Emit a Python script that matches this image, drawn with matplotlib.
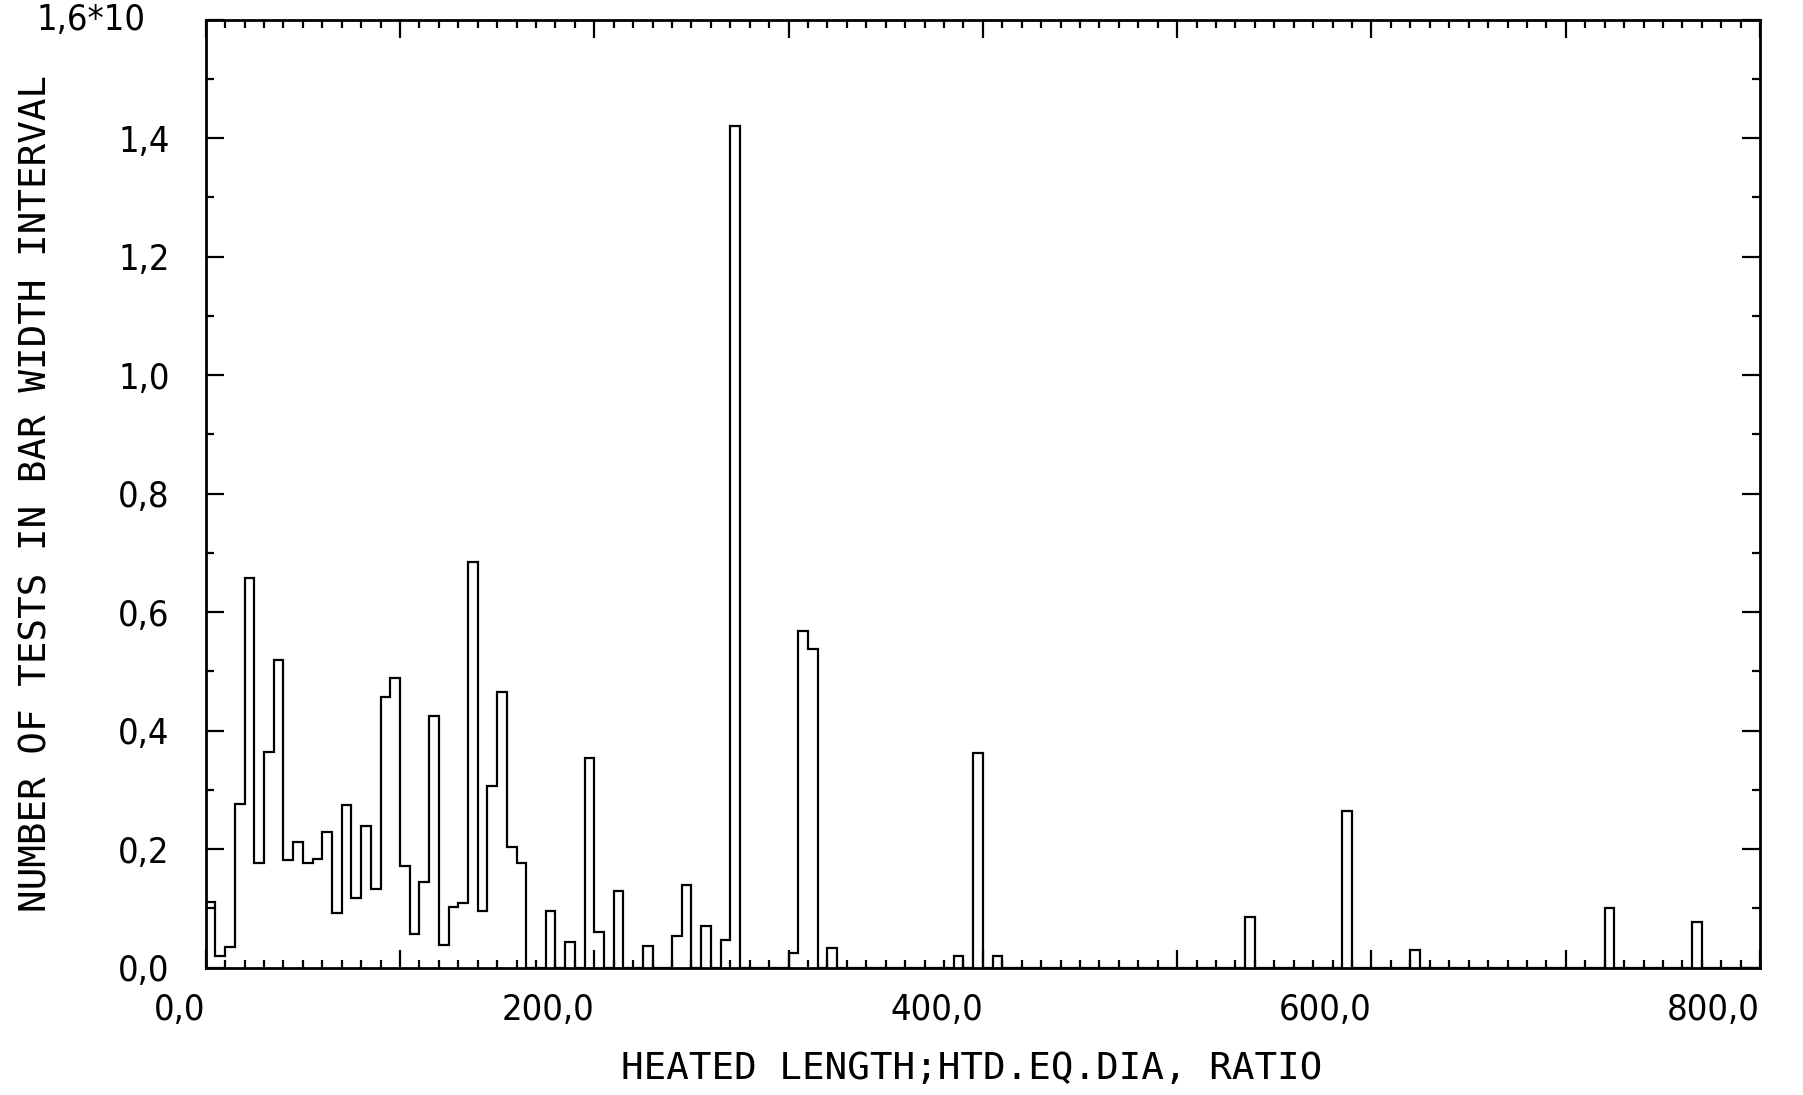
import numpy as np
import matplotlib
matplotlib.use("Agg")
import matplotlib.pyplot as plt
from matplotlib.ticker import MultipleLocator, FixedLocator

# histogram: bin width 5, heated length / equiv. diameter 0 .. 800 (values x10)
BIN_WIDTH = 5.0
heights = [
    0.11, 0.02, 0.035, 0.277, 0.657, 0.176, 0.364, 0.52, 0.182, 0.212,   # 0-50
    0.176, 0.184, 0.229, 0.092, 0.275, 0.118, 0.239, 0.132, 0.457, 0.489,  # 50-100
    0.171, 0.056, 0.145, 0.425, 0.039, 0.102, 0.109, 0.685, 0.095, 0.307,  # 100-150
    0.465, 0.204, 0.176, 0.0, 0.0, 0.095, 0.0, 0.043, 0.0, 0.354,       # 150-200
    0.06, 0.0, 0.13, 0.0, 0.0, 0.036, 0.0, 0.0, 0.053, 0.14,            # 200-250
    0.0, 0.071, 0.0, 0.047, 1.42, 0.0, 0.0, 0.0, 0.0, 0.0,              # 250-300
    0.024, 0.568, 0.537, 0.0, 0.033, 0.0, 0.0, 0.0, 0.0, 0.0,           # 300-350
    0.0, 0.0, 0.0, 0.0, 0.0, 0.0, 0.0, 0.02, 0.0, 0.362,                # 350-400
    0.0, 0.02, 0.0, 0.0, 0.0, 0.0, 0.0, 0.0, 0.0, 0.0,                  # 400-450
    0.0, 0.0, 0.0, 0.0, 0.0, 0.0, 0.0, 0.0, 0.0, 0.0,                   # 450-500
    0.0, 0.0, 0.0, 0.0, 0.0, 0.0, 0.0, 0.085, 0.0, 0.0,                 # 500-550
    0.0, 0.0, 0.0, 0.0, 0.0, 0.0, 0.0, 0.265, 0.0, 0.0,                 # 550-600
    0.0, 0.0, 0.0, 0.0, 0.03, 0.0, 0.0, 0.0, 0.0, 0.0,                  # 600-650
    0.0, 0.0, 0.0, 0.0, 0.0, 0.0, 0.0, 0.0, 0.0, 0.0,                   # 650-700
    0.0, 0.0, 0.0, 0.0, 0.10, 0.0, 0.0, 0.0, 0.0, 0.0,                  # 700-750
    0.0, 0.0, 0.0, 0.077, 0.0, 0.0, 0.0, 0.0, 0.0, 0.0,                 # 750-800
]
edges = np.arange(len(heights) + 1) * BIN_WIDTH

x_ticks = [0, 100, 200, 300, 400, 500, 600, 700, 800]
x_labels = ["0,0", "", "200,0", "", "400,0", "", "600,0", "", "800,0"]
y_ticks = [0.0, 0.2, 0.4, 0.6, 0.8, 1.0, 1.2, 1.4, 1.6]
y_labels = ["0,0", "0,2", "0,4", "0,6", "0,8", "1,0", "1,2", "1,4", ""]

TICK_FONT = dict(family="DejaVu Sans", stretch="condensed", fontsize=26)
LABEL_FONT = dict(family="DejaVu Sans Mono", fontsize=27)

fig = plt.figure(figsize=(18.03, 10.95), dpi=100)
ax = fig.add_axes([0.1141, 0.1163, 0.8621, 0.8658])

ax.stairs(heights, edges, baseline=0, color="black", lw=1.6)

ax.set_xlim(0, 800)
ax.set_ylim(0, 1.6)

ax.xaxis.set_major_locator(FixedLocator(x_ticks))
ax.xaxis.set_minor_locator(MultipleLocator(10))
ax.yaxis.set_major_locator(FixedLocator(y_ticks))
ax.yaxis.set_minor_locator(MultipleLocator(0.1))
ax.set_xticklabels(x_labels, **TICK_FONT)
ax.set_yticklabels(y_labels, **TICK_FONT)

ax.tick_params(which="both", direction="in", top=True, right=True, width=1.6, color="black")
ax.tick_params(which="major", length=13)
ax.tick_params(which="minor", length=6)
ax.tick_params(axis="x", pad=18)
ax.tick_params(axis="y", pad=26)
for lab in ax.get_xticklabels():
    lab.set_horizontalalignment("right")

for sp in ax.spines.values():
    sp.set_linewidth(2.0)
    sp.set_color("black")

ax.text(-0.039, 1.0, "1,6*10", transform=ax.transAxes, ha="right", va="center", **TICK_FONT)

ax.set_xlabel("HEATED LENGTH;HTD.EQ.DIA, RATIO", **LABEL_FONT)
ax.set_ylabel("NUMBER OF TESTS IN BAR WIDTH INTERVAL", **LABEL_FONT)
ax.xaxis.set_label_coords(0.493, -0.088)
ax.yaxis.set_label_coords(-0.097, 0.5)

fig.savefig("out.png", dpi=100, facecolor="white")
